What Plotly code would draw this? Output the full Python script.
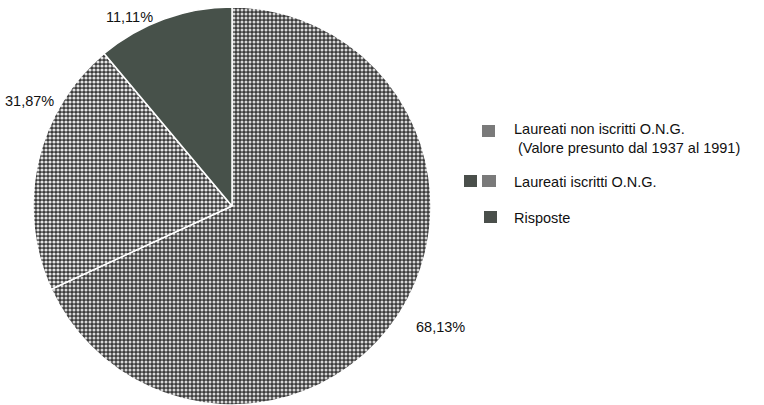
import plotly.graph_objects as go

# Data
slice_labels = ["Laureati non iscritti O.N.G.", "Laureati iscritti O.N.G.", "Risposte"]
slice_values = [68.13, 20.76, 11.11]
percent_texts = ["68,13%", "31,87%", "11,11%"]
legend_texts = ["Laureati non iscritti O.N.G.<br> (Valore presunto dal 1937 al 1991)",
                "Laureati iscritti O.N.G.", "Risposte"]

W, H = 764, 405

fig = go.Figure()
fig.add_trace(go.Pie(
    labels=slice_labels,
    values=slice_values,
    sort=False,
    direction="clockwise",
    rotation=0,
    textinfo="none",
    hoverinfo="label+percent",
    showlegend=False,
    domain=dict(x=[33 / W, 431 / W], y=[0, 398 / H]),
    marker=dict(
        colors=["#3c3c3c", "#3a3a3a", "#47514a"],
        line=dict(color="white", width=1.5),
        pattern=dict(
            shape=[".", ".", ""],
            fgcolor=["#d8d8d8", "#e4e4e4", "#47514a"],
            bgcolor=["#3c3c3c", "#3a3a3a", "#47514a"],
            size=[4, 4, 4],
            solidity=[0.45, 0.5, 0.3],
            fillmode="replace",
        ),
    ),
))

font = dict(family="Liberation Sans, Arial, sans-serif", size=14.5, color="#111")

annotations = [
    dict(x=440 / W, y=1 - 327 / H, text=percent_texts[0], xanchor="center", yanchor="middle"),
    dict(x=29 / W, y=1 - 101 / H, text=percent_texts[1], xanchor="center", yanchor="middle"),
    dict(x=129 / W, y=1 - 17 / H, text=percent_texts[2], xanchor="center", yanchor="middle"),
    dict(x=512 / W, y=1 - 119 / H, text=legend_texts[0], xanchor="left", yanchor="top", align="left"),
    dict(x=512 / W, y=1 - 182 / H, text=legend_texts[1], xanchor="left", yanchor="middle"),
    dict(x=512 / W, y=1 - 218 / H, text=legend_texts[2], xanchor="left", yanchor="middle"),
]
for a in annotations:
    a.update(xref="paper", yref="paper", showarrow=False, font=font)

def rect(x0, y0, x1, y1, color):
    return dict(type="rect", xref="paper", yref="paper",
                x0=x0 / W, x1=x1 / W, y0=1 - y1 / H, y1=1 - y0 / H,
                fillcolor=color, line=dict(width=0))

shapes = [
    rect(482, 125, 495, 137, "#7a7a7a"),
    rect(464, 175, 477, 187, "#4a4f4b"),
    rect(482, 175, 496, 187, "#7a7a7a"),
    rect(484, 211, 497, 223, "#4a4f4b"),
]

fig.update_layout(
    width=W, height=H,
    margin=dict(l=0, r=0, t=0, b=0),
    paper_bgcolor="white",
    plot_bgcolor="white",
    annotations=annotations,
    shapes=shapes,
)

fig.write_html("out.html")
